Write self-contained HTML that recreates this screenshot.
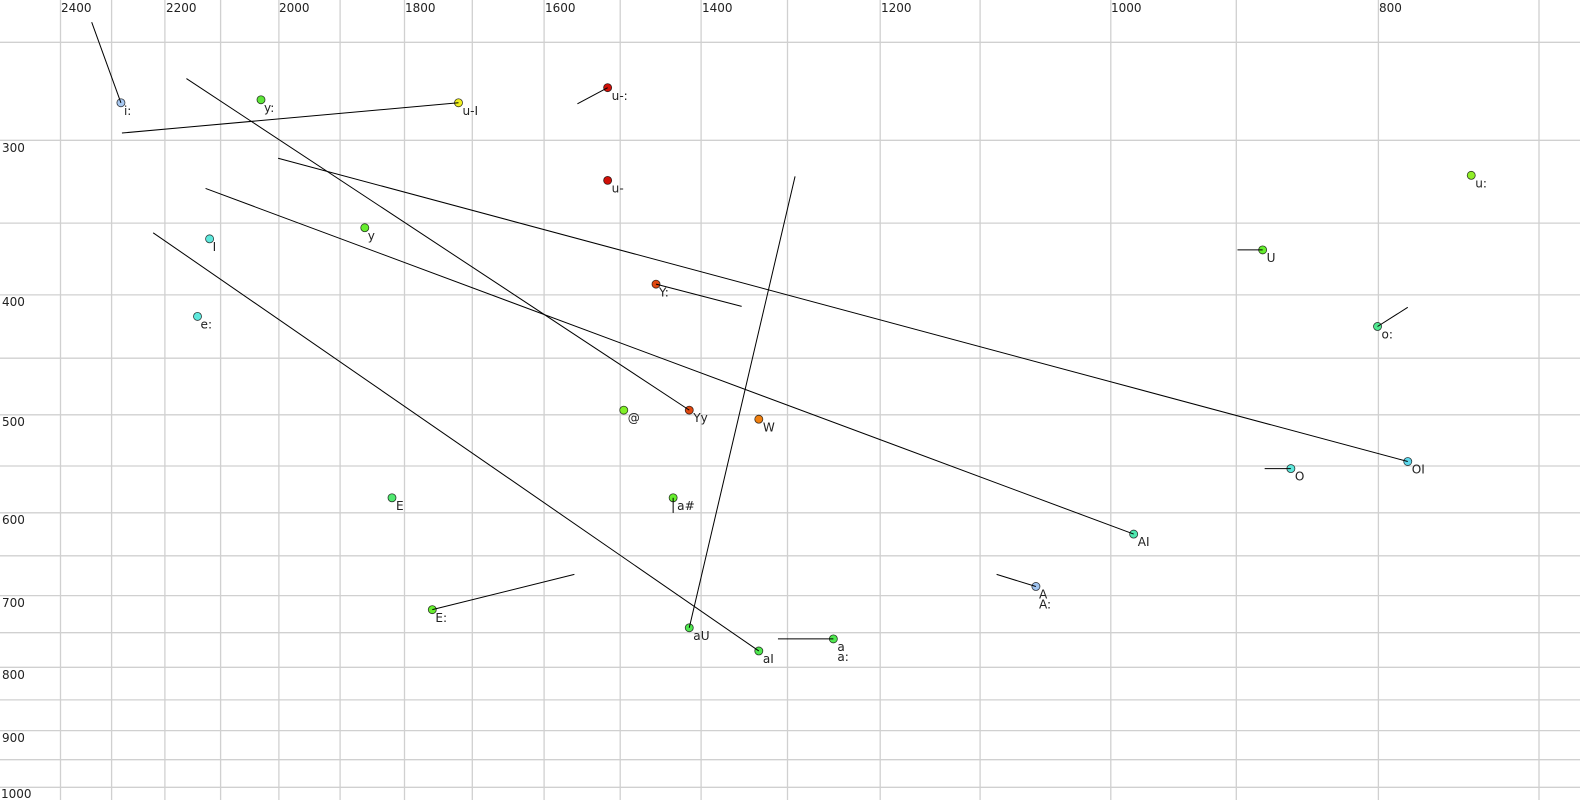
<!DOCTYPE html>
<html><head><meta charset="utf-8"><style>
html,body{margin:0;padding:0;background:#fff;}
svg{display:block;font-family:"DejaVu Sans","Liberation Sans",sans-serif;font-size:12px;}
</style></head><body>
<svg width="1580" height="800" xmlns="http://www.w3.org/2000/svg">
<g stroke="#d0d0d0" stroke-width="1.3">
<line x1="60.5" y1="0" x2="60.5" y2="800"/><line x1="111.6" y1="0" x2="111.6" y2="800"/><line x1="164.9" y1="0" x2="164.9" y2="800"/><line x1="220.6" y1="0" x2="220.6" y2="800"/><line x1="278.9" y1="0" x2="278.9" y2="800"/><line x1="340.1" y1="0" x2="340.1" y2="800"/><line x1="404.5" y1="0" x2="404.5" y2="800"/><line x1="472.3" y1="0" x2="472.3" y2="800"/><line x1="544.1" y1="0" x2="544.1" y2="800"/><line x1="620.2" y1="0" x2="620.2" y2="800"/><line x1="701.1" y1="0" x2="701.1" y2="800"/><line x1="787.5" y1="0" x2="787.5" y2="800"/><line x1="880.2" y1="0" x2="880.2" y2="800"/><line x1="980.1" y1="0" x2="980.1" y2="800"/><line x1="1110.8" y1="0" x2="1110.8" y2="800"/><line x1="1236.3" y1="0" x2="1236.3" y2="800"/><line x1="1378.4" y1="0" x2="1378.4" y2="800"/><line x1="1539" y1="0" x2="1539" y2="800"/>
<line x1="0" y1="42.3" x2="1580" y2="42.3"/><line x1="0" y1="140.3" x2="1580" y2="140.3"/><line x1="0" y1="223.1" x2="1580" y2="223.1"/><line x1="0" y1="294.9" x2="1580" y2="294.9"/><line x1="0" y1="358.2" x2="1580" y2="358.2"/><line x1="0" y1="414.8" x2="1580" y2="414.8"/><line x1="0" y1="466" x2="1580" y2="466"/><line x1="0" y1="512.8" x2="1580" y2="512.8"/><line x1="0" y1="555.8" x2="1580" y2="555.8"/><line x1="0" y1="595.6" x2="1580" y2="595.6"/><line x1="0" y1="632.7" x2="1580" y2="632.7"/><line x1="0" y1="667.3" x2="1580" y2="667.3"/><line x1="0" y1="699.9" x2="1580" y2="699.9"/><line x1="0" y1="730.6" x2="1580" y2="730.6"/><line x1="0" y1="759.7" x2="1580" y2="759.7"/><line x1="0" y1="787.3" x2="1580" y2="787.3"/>
</g>
<g fill="#222">
<text x="61" y="12">2400</text><text x="166" y="12">2200</text><text x="279" y="12">2000</text><text x="405" y="12">1800</text><text x="545" y="12">1600</text><text x="702" y="12">1400</text><text x="881" y="12">1200</text><text x="1111" y="12">1000</text><text x="1379" y="12">800</text>
<text x="2" y="152">300</text><text x="2" y="306">400</text><text x="2" y="426">500</text><text x="2" y="524">600</text><text x="2" y="607">700</text><text x="2" y="679">800</text><text x="2" y="742">900</text><text x="1" y="798">1000</text>
</g>
<g transform="scale(1.0077)">
<g stroke="#000" stroke-width="0.8" stroke-opacity="0.75" fill="#a8c8f0">
<circle cx="120" cy="102" r="4"/>
<circle cx="259" cy="99" r="4" fill="#5ee63a"/>
<circle cx="455" cy="102" r="4" fill="#f0f020"/>
<circle cx="603" cy="87" r="4" fill="#d01008"/>
<circle cx="603" cy="179" r="4" fill="#d01008"/>
<circle cx="1460" cy="174" r="4" fill="#90ee28"/>
<circle cx="208" cy="237" r="4" fill="#5ee8dc"/>
<circle cx="362" cy="226" r="4" fill="#66ee2e"/>
<circle cx="1253" cy="248" r="4" fill="#66ee2e"/>
<circle cx="651" cy="282" r="4" fill="#e04810"/>
<circle cx="196" cy="314" r="4" fill="#5ee8dc"/>
<circle cx="1367" cy="324" r="4" fill="#50e890"/>
<circle cx="619" cy="407" r="4" fill="#80f028"/>
<circle cx="684" cy="407" r="4" fill="#e04810"/>
<circle cx="753" cy="416" r="4" fill="#f08010"/>
<circle cx="1397" cy="458" r="4" fill="#5ed8ec"/>
<circle cx="1281" cy="465" r="4" fill="#5ee8dc"/>
<circle cx="389" cy="494" r="4" fill="#50e870"/>
<circle cx="668" cy="494" r="4" fill="#66ee2e"/>
<circle cx="1125" cy="530" r="4" fill="#50e8b0"/>
<circle cx="1028" cy="582" r="4" fill="#a0c4f0"/>
<circle cx="429" cy="605" r="4" fill="#66ee2e"/>
<circle cx="684" cy="623" r="4" fill="#50e850"/>
<circle cx="753" cy="646" r="4" fill="#50e850"/>
<circle cx="827" cy="634" r="4" fill="#50e850"/>
</g>
<g stroke="#000" stroke-width="1" fill="none">
<line x1="91" y1="22" x2="120" y2="102"/>
<line x1="121" y1="132" x2="455" y2="102"/>
<line x1="573" y1="103" x2="603" y2="87"/>
<line x1="1228" y1="248" x2="1253" y2="248"/>
<line x1="651" y1="282" x2="736" y2="304"/>
<line x1="1367" y1="324" x2="1397" y2="305"/>
<line x1="185" y1="78" x2="684" y2="407"/>
<line x1="276" y1="157" x2="1397" y2="458"/>
<line x1="1255" y1="465" x2="1281" y2="465"/>
<line x1="668" y1="494" x2="668" y2="509"/>
<line x1="204" y1="187" x2="1125" y2="530"/>
<line x1="989" y1="570" x2="1028" y2="582"/>
<line x1="429" y1="605" x2="570" y2="570"/>
<line x1="684" y1="623" x2="789" y2="175"/>
<line x1="152" y1="231" x2="753" y2="646"/>
<line x1="772" y1="634" x2="827" y2="634"/>
</g>
<g fill="#222">
<text x="123" y="114">i:</text>
<text x="262" y="111">y:</text>
<text x="459" y="114">u-I</text>
<text x="607" y="99">u-:</text>
<text x="607" y="191">u-</text>
<text x="1464" y="186">u:</text>
<text x="211" y="249">I</text>
<text x="365" y="238">y</text>
<text x="1257" y="260">U</text>
<text x="654" y="294">Y:</text>
<text x="199" y="326">e:</text>
<text x="1371" y="336">o:</text>
<text x="623" y="419">@</text>
<text x="688" y="419">Yy</text>
<text x="757" y="428">W</text>
<text x="1401" y="470">OI</text>
<text x="1285" y="477">O</text>
<text x="393" y="506">E</text>
<text x="672" y="506">a#</text>
<text x="1129" y="542">AI</text>
<text x="1031" y="594">A</text>
<text x="1031" y="604">A:</text>
<text x="432" y="617">E:</text>
<text x="688" y="635">aU</text>
<text x="757" y="658">aI</text>
<text x="831" y="646">a</text>
<text x="831" y="656">a:</text>
</g>
</g>
</svg>
</body></html>
